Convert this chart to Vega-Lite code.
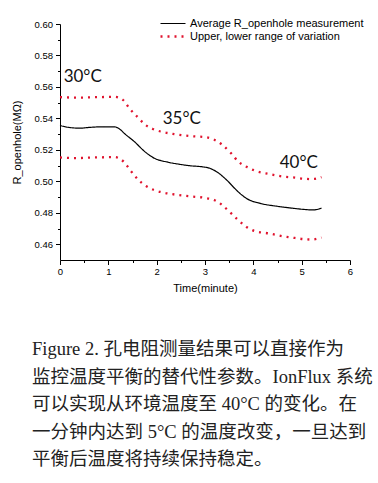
{
  "$schema": "https://vega.github.io/schema/vega-lite/v6.json",
  "width": 290,
  "height": 236,
  "autosize": "none",
  "padding": {"left": 60, "top": 24, "right": 28, "bottom": 223},
  "background": "white",
  "config": {
    "view": {"stroke": null},
    "font": "Liberation Sans",
    "axis": {
      "grid": false,
      "domainColor": "#000000",
      "tickColor": "#000000",
      "labelColor": "#000000",
      "titleColor": "#000000",
      "labelFont": "Liberation Sans",
      "titleFont": "Liberation Sans",
      "labelFontSize": 9.5,
      "titleFontSize": 11,
      "titleFontWeight": "normal",
      "labelOverlap": false,
      "labelFlush": false
    }
  },
  "datasets": {
    "series": [
      {"time": 0, "r": 0.5355, "series": "Average R_openhole measurement", "band": "avg"},
      {"time": 0.2, "r": 0.5342, "series": "Average R_openhole measurement", "band": "avg"},
      {"time": 0.41, "r": 0.5338, "series": "Average R_openhole measurement", "band": "avg"},
      {"time": 0.62, "r": 0.5343, "series": "Average R_openhole measurement", "band": "avg"},
      {"time": 0.82, "r": 0.5346, "series": "Average R_openhole measurement", "band": "avg"},
      {"time": 1.13, "r": 0.5346, "series": "Average R_openhole measurement", "band": "avg"},
      {"time": 1.23, "r": 0.5333, "series": "Average R_openhole measurement", "band": "avg"},
      {"time": 1.33, "r": 0.5305, "series": "Average R_openhole measurement", "band": "avg"},
      {"time": 1.54, "r": 0.5252, "series": "Average R_openhole measurement", "band": "avg"},
      {"time": 1.75, "r": 0.519, "series": "Average R_openhole measurement", "band": "avg"},
      {"time": 1.95, "r": 0.5147, "series": "Average R_openhole measurement", "band": "avg"},
      {"time": 2.23, "r": 0.5122, "series": "Average R_openhole measurement", "band": "avg"},
      {"time": 2.44, "r": 0.511, "series": "Average R_openhole measurement", "band": "avg"},
      {"time": 2.69, "r": 0.5099, "series": "Average R_openhole measurement", "band": "avg"},
      {"time": 2.95, "r": 0.5092, "series": "Average R_openhole measurement", "band": "avg"},
      {"time": 3.1, "r": 0.5083, "series": "Average R_openhole measurement", "band": "avg"},
      {"time": 3.24, "r": 0.5061, "series": "Average R_openhole measurement", "band": "avg"},
      {"time": 3.45, "r": 0.5008, "series": "Average R_openhole measurement", "band": "avg"},
      {"time": 3.65, "r": 0.4944, "series": "Average R_openhole measurement", "band": "avg"},
      {"time": 3.86, "r": 0.4891, "series": "Average R_openhole measurement", "band": "avg"},
      {"time": 4.14, "r": 0.486, "series": "Average R_openhole measurement", "band": "avg"},
      {"time": 4.48, "r": 0.4842, "series": "Average R_openhole measurement", "band": "avg"},
      {"time": 4.76, "r": 0.4831, "series": "Average R_openhole measurement", "band": "avg"},
      {"time": 5.03, "r": 0.4822, "series": "Average R_openhole measurement", "band": "avg"},
      {"time": 5.24, "r": 0.4818, "series": "Average R_openhole measurement", "band": "avg"},
      {"time": 5.41, "r": 0.483, "series": "Average R_openhole measurement", "band": "avg"},
      {"time": 0, "r": 0.5535, "series": "Upper, lower range of variation", "band": "upper"},
      {"time": 0.34, "r": 0.5532, "series": "Upper, lower range of variation", "band": "upper"},
      {"time": 0.75, "r": 0.5535, "series": "Upper, lower range of variation", "band": "upper"},
      {"time": 1.13, "r": 0.5537, "series": "Upper, lower range of variation", "band": "upper"},
      {"time": 1.3, "r": 0.5518, "series": "Upper, lower range of variation", "band": "upper"},
      {"time": 1.44, "r": 0.5462, "series": "Upper, lower range of variation", "band": "upper"},
      {"time": 1.61, "r": 0.5407, "series": "Upper, lower range of variation", "band": "upper"},
      {"time": 1.75, "r": 0.5363, "series": "Upper, lower range of variation", "band": "upper"},
      {"time": 1.92, "r": 0.5333, "series": "Upper, lower range of variation", "band": "upper"},
      {"time": 2.09, "r": 0.5316, "series": "Upper, lower range of variation", "band": "upper"},
      {"time": 2.33, "r": 0.5302, "series": "Upper, lower range of variation", "band": "upper"},
      {"time": 2.69, "r": 0.5288, "series": "Upper, lower range of variation", "band": "upper"},
      {"time": 3.03, "r": 0.528, "series": "Upper, lower range of variation", "band": "upper"},
      {"time": 3.2, "r": 0.5263, "series": "Upper, lower range of variation", "band": "upper"},
      {"time": 3.36, "r": 0.5231, "series": "Upper, lower range of variation", "band": "upper"},
      {"time": 3.54, "r": 0.5178, "series": "Upper, lower range of variation", "band": "upper"},
      {"time": 3.69, "r": 0.5125, "series": "Upper, lower range of variation", "band": "upper"},
      {"time": 3.86, "r": 0.5092, "series": "Upper, lower range of variation", "band": "upper"},
      {"time": 4.03, "r": 0.5068, "series": "Upper, lower range of variation", "band": "upper"},
      {"time": 4.34, "r": 0.5046, "series": "Upper, lower range of variation", "band": "upper"},
      {"time": 4.62, "r": 0.503, "series": "Upper, lower range of variation", "band": "upper"},
      {"time": 4.86, "r": 0.5024, "series": "Upper, lower range of variation", "band": "upper"},
      {"time": 5.03, "r": 0.5017, "series": "Upper, lower range of variation", "band": "upper"},
      {"time": 5.21, "r": 0.5014, "series": "Upper, lower range of variation", "band": "upper"},
      {"time": 5.41, "r": 0.5027, "series": "Upper, lower range of variation", "band": "upper"},
      {"time": 0, "r": 0.5152, "series": "Upper, lower range of variation", "band": "lower"},
      {"time": 0.34, "r": 0.5148, "series": "Upper, lower range of variation", "band": "lower"},
      {"time": 0.75, "r": 0.5152, "series": "Upper, lower range of variation", "band": "lower"},
      {"time": 1.13, "r": 0.5154, "series": "Upper, lower range of variation", "band": "lower"},
      {"time": 1.33, "r": 0.5121, "series": "Upper, lower range of variation", "band": "lower"},
      {"time": 1.45, "r": 0.5072, "series": "Upper, lower range of variation", "band": "lower"},
      {"time": 1.61, "r": 0.5013, "series": "Upper, lower range of variation", "band": "lower"},
      {"time": 1.78, "r": 0.497, "series": "Upper, lower range of variation", "band": "lower"},
      {"time": 1.95, "r": 0.4944, "series": "Upper, lower range of variation", "band": "lower"},
      {"time": 2.13, "r": 0.4929, "series": "Upper, lower range of variation", "band": "lower"},
      {"time": 2.33, "r": 0.4918, "series": "Upper, lower range of variation", "band": "lower"},
      {"time": 2.69, "r": 0.4905, "series": "Upper, lower range of variation", "band": "lower"},
      {"time": 3.03, "r": 0.4893, "series": "Upper, lower range of variation", "band": "lower"},
      {"time": 3.2, "r": 0.488, "series": "Upper, lower range of variation", "band": "lower"},
      {"time": 3.36, "r": 0.4848, "series": "Upper, lower range of variation", "band": "lower"},
      {"time": 3.53, "r": 0.48, "series": "Upper, lower range of variation", "band": "lower"},
      {"time": 3.69, "r": 0.4753, "series": "Upper, lower range of variation", "band": "lower"},
      {"time": 3.86, "r": 0.471, "series": "Upper, lower range of variation", "band": "lower"},
      {"time": 4.03, "r": 0.4684, "series": "Upper, lower range of variation", "band": "lower"},
      {"time": 4.34, "r": 0.4668, "series": "Upper, lower range of variation", "band": "lower"},
      {"time": 4.62, "r": 0.465, "series": "Upper, lower range of variation", "band": "lower"},
      {"time": 4.86, "r": 0.464, "series": "Upper, lower range of variation", "band": "lower"},
      {"time": 5.03, "r": 0.4633, "series": "Upper, lower range of variation", "band": "lower"},
      {"time": 5.21, "r": 0.463, "series": "Upper, lower range of variation", "band": "lower"},
      {"time": 5.41, "r": 0.4643, "series": "Upper, lower range of variation", "band": "lower"}
    ],
    "notes": [
      {"time": 0.47, "r": 0.5665, "label": "30°C"},
      {"time": 2.52, "r": 0.5397, "label": "35°C"},
      {"time": 4.94, "r": 0.5117, "label": "40°C"}
    ]
  },
  "encoding": {
    "x": {
      "field": "time",
      "type": "quantitative",
      "scale": {"domain": [0, 6], "nice": false, "zero": false},
      "axis": {
        "title": "Time(minute)",
        "values": [0, 0.5, 1, 1.5, 2, 2.5, 3, 3.5, 4, 4.5, 5, 5.5, 6],
        "labelExpr": "datum.value % 1 == 0 ? format(datum.value, 'd') : ''",
        "tickSize": {"condition": {"test": "datum.value % 1 == 0", "value": 4.5}, "value": 2.5},
        "labelOverlap": false,
        "labelBound": false,
        "labelPadding": 2,
        "titlePadding": 6
      }
    },
    "y": {
      "field": "r",
      "type": "quantitative",
      "scale": {"domain": [0.45, 0.6], "nice": false, "zero": false},
      "axis": {
        "title": "R_openhole(MΩ)",
        "values": [0.46, 0.47, 0.48, 0.49, 0.5, 0.51, 0.52, 0.53, 0.54, 0.55, 0.56, 0.57, 0.58, 0.59, 0.6],
        "labelExpr": "indexof(['0.46','0.48','0.50','0.52','0.54','0.56','0.58','0.60'], format(datum.value, '.2f')) >= 0 ? format(datum.value, '.2f') : ''",
        "tickSize": {"condition": {"test": "indexof(['0.46','0.48','0.50','0.52','0.54','0.56','0.58','0.60'], format(datum.value, '.2f')) >= 0", "value": 4.5}, "value": 2.5},
        "labelOverlap": false,
        "labelBound": false,
        "labelSeparation": 0,
        "labelPadding": 3,
        "titlePadding": 12
      }
    }
  },
  "layer": [
    {
      "data": {"name": "series"},
      "mark": {"type": "line", "interpolate": "monotone", "strokeCap": "butt"},
      "encoding": {
        "color": {
          "field": "series",
          "type": "nominal",
          "scale": {"domain": ["Average R_openhole measurement", "Upper, lower range of variation"], "range": ["#000000", "#e0132e"]},
          "legend": {
            "title": null,
            "orient": "none",
            "legendX": 99,
            "legendY": -7,
            "symbolType": "stroke",
            "symbolSize": 625,
            "clipHeight": 13,
            "rowPadding": 0,
            "labelFont": "Liberation Sans",
            "labelFontSize": 11,
            "labelColor": "#000000",
            "labelOffset": 3,
            "labelLimit": 300
          }
        },
        "strokeDash": {
          "field": "series",
          "type": "nominal",
          "scale": {"domain": ["Average R_openhole measurement", "Upper, lower range of variation"], "range": [[1, 0], [2, 5]]},
          "legend": {
            "title": null,
            "orient": "none",
            "legendX": 99,
            "legendY": -7,
            "symbolType": "stroke",
            "symbolSize": 625,
            "clipHeight": 13,
            "rowPadding": 0,
            "labelFont": "Liberation Sans",
            "labelFontSize": 11,
            "labelColor": "#000000",
            "labelOffset": 3,
            "labelLimit": 300
          }
        },
        "strokeWidth": {
          "field": "series",
          "type": "nominal",
          "scale": {"domain": ["Average R_openhole measurement", "Upper, lower range of variation"], "range": [1.2, 2.3]},
          "legend": {
            "title": null,
            "orient": "none",
            "legendX": 99,
            "legendY": -7,
            "symbolType": "stroke",
            "symbolSize": 625,
            "clipHeight": 13,
            "rowPadding": 0,
            "labelFont": "Liberation Sans",
            "labelFontSize": 11,
            "labelColor": "#000000",
            "labelOffset": 3,
            "labelLimit": 300
          }
        },
        "detail": {"field": "band", "type": "nominal"}
      }
    },
    {
      "data": {"name": "notes"},
      "mark": {"type": "text", "font": "Lato", "fontSize": 17, "color": "#111111"},
      "encoding": {
        "text": {"field": "label", "type": "nominal"}
      }
    }
  ],
  "title": {
    "text": [
      "Figure 2.  孔电阻测量结果可以直接作为",
      "监控温度平衡的替代性参数。IonFlux 系统",
      "可以实现从环境温度至  40°C  的变化。在",
      "一分钟内达到 5°C 的温度改变，一旦达到",
      "平衡后温度将持续保持稳定。"
    ],
    "orient": "bottom",
    "anchor": "start",
    "frame": "group",
    "dx": -28,
    "offset": 47,
    "font": "Liberation Serif, Noto Sans CJK SC",
    "fontSize": 18.5,
    "fontWeight": "normal",
    "lineHeight": 27.5,
    "color": "#222222"
  }
}
